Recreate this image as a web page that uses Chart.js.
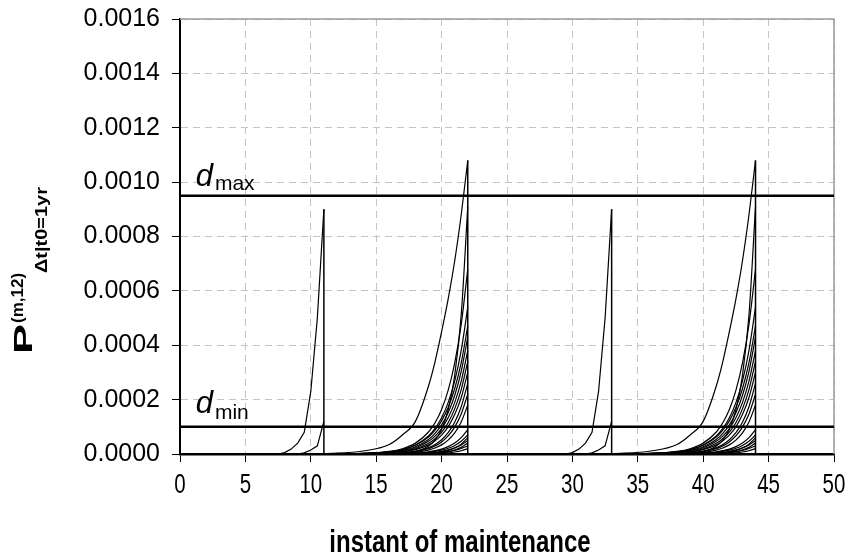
<!DOCTYPE html>
<html>
<head>
<meta charset="utf-8">
<script src="https://cdn.jsdelivr.net/npm/chart.js@4.4.1/dist/chart.umd.min.js"></script>
<style>
  html, body { margin: 0; padding: 0; background: #fff; }
</style>
</head>
<body>
<canvas id="chart" width="851" height="558"></canvas>
<script>
// axes
const xMin = 0, xMax = 50, xStep = 5;
const yMin = 0, yMax = 0.0016, yStep = 0.0002;
const xTitle = 'instant of maintenance';

// thresholds
const dMax = 0.00095;
const dMin = 0.0001;

// the 22-year cycle is drawn twice
const cycleShifts = [0, 22];

// short interval (maintenance at 11)
const xShort = [7.5, 8, 8.5, 9, 9.5, 10, 10.5, 11];
const shortCurves = [
  [0, 0.000005, 0.000018, 0.00004, 0.00008, 0.00023, 0.0005, 0.0009],
  [0, 0, 0, 0, 0.000004, 0.000015, 0.00003, 0.00012]
];

// long interval (maintenance at 22)
const xLong = [11, 14, 16, 17, 18, 19, 19.5, 20, 20.5, 21, 21.5, 22];
const longCurves = [
  [0.000001, 0.000011, 0.000035, 0.00007, 0.00012, 0.00025, 0.00034, 0.00045, 0.00057, 0.00071, 0.00088, 0.00108],
  [0, 0, 0.0000009, 0.0000029, 0.0000091, 0.000029, 0.000051, 0.000091, 0.000162, 0.000288, 0.000512, 0.00091],
  [0.0000003, 0.0000023, 0.0000096, 0.0000195, 0.00004, 0.000081, 0.000115, 0.000164, 0.000234, 0.000334, 0.000477, 0.00068],
  [0.0000002, 0.000002, 0.0000081, 0.0000163, 0.0000328, 0.0000662, 0.0000939, 0.000133, 0.000189, 0.000268, 0.000381, 0.00054],
  [0.0000003, 0.0000022, 0.0000083, 0.0000162, 0.0000319, 0.0000624, 0.0000874, 0.000122, 0.000171, 0.00024, 0.000336, 0.00047],
  [0.0000002, 0.0000017, 0.0000066, 0.0000133, 0.0000267, 0.0000534, 0.0000757, 0.000107, 0.000152, 0.000215, 0.000304, 0.00043],
  [0.0000002, 0.0000014, 0.0000057, 0.0000115, 0.0000231, 0.0000466, 0.000066, 0.0000937, 0.000133, 0.000189, 0.000268, 0.00038],
  [0.0000001, 0.0000011, 0.0000045, 0.0000093, 0.0000191, 0.0000392, 0.0000562, 0.0000805, 0.000115, 0.000166, 0.000237, 0.00034],
  [0.0000001, 0.0000009, 0.0000038, 0.0000078, 0.0000162, 0.0000336, 0.0000483, 0.0000696, 0.0001, 0.000145, 0.000208, 0.0003],
  [0, 0.0000004, 0.0000021, 0.0000048, 0.0000106, 0.0000236, 0.0000352, 0.0000525, 0.0000783, 0.000117, 0.000174, 0.00026],
  [0, 0.0000004, 0.0000018, 0.000004, 0.000009, 0.00002, 0.0000298, 0.0000444, 0.0000663, 0.0000988, 0.000147, 0.00022],
  [0, 0.0000002, 0.0000012, 0.0000027, 0.0000062, 0.0000145, 0.000022, 0.0000336, 0.0000511, 0.0000777, 0.000118, 0.00018],
  [0, 0.0000001, 0.0000007, 0.0000016, 0.0000037, 0.0000082, 0.0000122, 0.0000182, 0.0000271, 0.0000404, 0.0000603, 0.00009],
  [0, 0.0000001, 0.0000006, 0.0000013, 0.0000029, 0.0000063, 0.0000095, 0.0000141, 0.0000211, 0.0000315, 0.0000469, 0.00007],
  [0, 0, 0.0000001, 0.0000004, 0.0000011, 0.000003, 0.0000049, 0.0000081, 0.0000134, 0.0000221, 0.0000364, 0.00006],
  [0, 0.0000001, 0.0000004, 0.0000009, 0.000002, 0.0000045, 0.0000068, 0.0000101, 0.0000151, 0.0000225, 0.0000335, 0.00005],
  [0, 0, 0.0000001, 0.0000003, 0.0000007, 0.000002, 0.0000033, 0.0000054, 0.0000089, 0.0000147, 0.0000243, 0.00004],
  [0, 0, 0.0000002, 0.0000005, 0.0000012, 0.0000027, 0.0000041, 0.0000061, 0.000009, 0.0000135, 0.0000201, 0.00003],
  [0, 0, 0, 0.0000001, 0.0000004, 0.000001, 0.0000016, 0.0000027, 0.0000045, 0.0000074, 0.0000121, 0.00002]
];

const FONT = '"Liberation Sans", Arial, sans-serif';

const line = (data, extra) => Object.assign({
  data, showLine: true, borderColor: '#000', borderWidth: 1.2,
  pointRadius: 0, fill: false
}, extra);

const lastOf = arr => arr[arr.length - 1];

const datasets = [];
cycleShifts.forEach(s => {
  shortCurves.forEach(v => datasets.push(line(xShort.map((x, i) => ({x: x + s, y: v[i]})))));
  longCurves.forEach(v => datasets.push(line(xLong.map((x, i) => ({x: x + s, y: v[i]})), {cubicInterpolationMode: 'monotone'})));
  // drop back to zero at each maintenance instant
  const topShort = Math.max(...shortCurves.map(lastOf));
  const topLong = Math.max(...longCurves.map(lastOf));
  datasets.push(line([{x: lastOf(xShort) + s, y: 0}, {x: lastOf(xShort) + s, y: topShort}], {borderWidth: 1.5}));
  datasets.push(line([{x: lastOf(xLong) + s, y: 0}, {x: lastOf(xLong) + s, y: topLong}], {borderWidth: 1.5}));
});
datasets.push(line([{x: xMin, y: dMax}, {x: xMax, y: dMax}], {borderWidth: 2.5}));
datasets.push(line([{x: xMin, y: dMin}, {x: xMax, y: dMin}], {borderWidth: 2.5}));

// narrow text, like the squeezed original
const squeezed = (ctx, text, cx, cy, font, sx, align) => {
  ctx.save();
  ctx.font = font;
  ctx.textAlign = align || 'center';
  ctx.translate(cx, cy);
  ctx.scale(sx, 1);
  ctx.fillText(text, 0, 0);
  ctx.restore();
};

const decorations = {
  id: 'decorations',
  beforeDatasetsDraw(chart) {
    const {ctx, chartArea: a} = chart;
    ctx.save();
    ctx.strokeStyle = '#9a9a9a';
    ctx.lineWidth = 1.5;
    ctx.beginPath();
    ctx.moveTo(a.left, a.top);
    ctx.lineTo(a.right, a.top);
    ctx.lineTo(a.right, a.bottom);
    ctx.stroke();
    ctx.restore();
  },
  afterDraw(chart) {
    const {ctx, scales: {x, y}} = chart;
    ctx.save();
    ctx.fillStyle = '#000';
    ctx.textBaseline = 'alphabetic';

    // x tick labels and title
    x.ticks.forEach(t => {
      squeezed(ctx, String(t.value), x.getPixelForValue(t.value), x.top + 39, '27px ' + FONT, 0.76);
    });
    squeezed(ctx, xTitle, 460, 552, 'bold 32px ' + FONT, 0.75);

    // d_max / d_min labels
    const dLabel = (val, sub, lift, drop) => {
      const px = x.getPixelForValue(1.2);
      const py = y.getPixelForValue(val) - lift;
      ctx.font = 'italic 31px ' + FONT;
      ctx.fillText('d', px, py);
      const w = ctx.measureText('d').width;
      ctx.font = '21px ' + FONT;
      ctx.fillText(sub, px + w + 2, py + drop);
    };
    dLabel(dMax, 'max', 10, 4);
    dLabel(dMin, 'min', 14, 6);

    // y axis title, rotated
    ctx.translate(32, 354);
    ctx.rotate(-Math.PI / 2);
    ctx.save();
    ctx.scale(1.5, 0.85);
    ctx.font = 'bold 30px ' + FONT;
    ctx.fillText('P', 0, 0);
    ctx.restore();
    ctx.font = 'bold 17px ' + FONT;
    ctx.fillText('(m,12)', 31, -9);
    ctx.save();
    ctx.translate(81, 15);
    ctx.scale(1.05, 0.9);
    ctx.font = 'bold 19px ' + FONT;
    ctx.fillText('\u0394t|t0=1yr', 0, 0);
    ctx.restore();
    ctx.restore();
  }
};

new Chart(document.getElementById('chart'), {
  type: 'scatter',
  data: { datasets },
  options: {
    responsive: false,
    animation: false,
    events: [],
    layout: { padding: { left: 0, right: 17, top: 19, bottom: 0 } },
    plugins: { legend: { display: false }, tooltip: { enabled: false } },
    scales: {
      x: {
        type: 'linear', min: xMin, max: xMax,
        afterFit: s => { s.height = 104; },
        ticks: { stepSize: xStep, display: false },
        grid: { color: '#c4c4c4', tickColor: '#000', tickLength: 8, tickBorderDash: [] },
        border: { color: '#000', width: 2.5, dash: [7, 5] }
      },
      y: {
        type: 'linear', min: yMin, max: yMax,
        afterFit: s => { s.width = 180; s.paddingTop = 0; s.paddingBottom = 0; },
        ticks: { stepSize: yStep, color: '#000', padding: 12, font: { family: FONT, size: 25 },
                 callback: v => v.toFixed(4) },
        grid: { color: '#c4c4c4', tickColor: '#000', tickLength: 8, tickBorderDash: [] },
        border: { color: '#000', width: 2, dash: [7, 5] }
      }
    }
  },
  plugins: [decorations]
});
</script>
</body>
</html>
